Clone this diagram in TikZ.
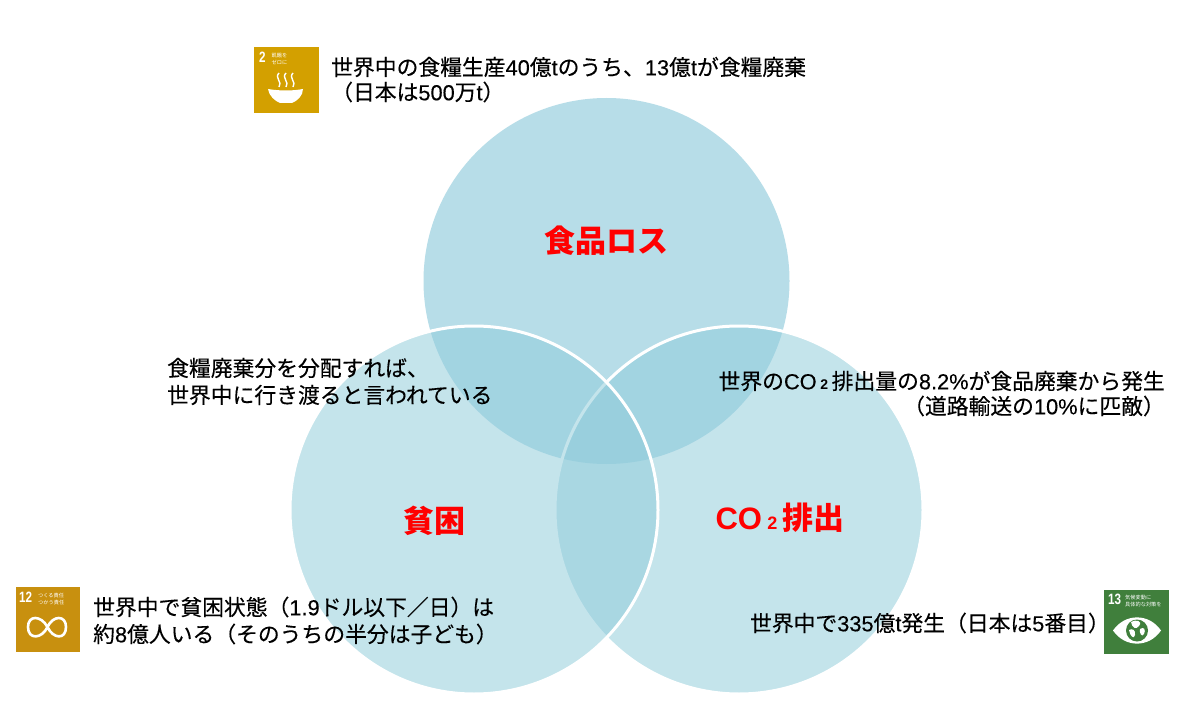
\documentclass[tikz,border=0pt]{standalone}
\usepackage{fontspec}
\setmainfont[RawFeature={embolden=0.25}]{Noto Sans CJK JP}
\newfontfamily\plainjp{Noto Sans CJK JP}
\newfontfamily\la[RawFeature={embolden=0.25}]{Liberation Sans}
\newfontfamily\lap{Liberation Sans}
\newfontfamily\nar[FakeStretch=.78]{Liberation Sans}
\newcommand{\lt}[1]{{\la #1}}
\definecolor{topblue}{HTML}{B7DDE8}
\definecolor{vennblue}{HTML}{91CCDB}
\definecolor{sdgtwo}{HTML}{D3A000}
\definecolor{sdgtwelve}{HTML}{C8900F}
\definecolor{sdgthirteen}{HTML}{407F3C}
\tikzset{
  x=1pt,y=-1pt,
  vtxt/.style={anchor=west,inner sep=0pt,font=\fontsize{21.8}{26}\selectfont,text=black,align=left},
  rtxt/.style={anchor=east,inner sep=0pt,font=\fontsize{21.8}{26}\selectfont,text=black,align=right},
  ttl/.style={anchor=center,inner sep=0pt,font=\plainjp\fontsize{31}{36}\bfseries\selectfont,text=red},
  icn/.style={anchor=north west,inner sep=0pt,text=white,align=left},
  num/.style={icn,font=\nar\bfseries\fontsize{15}{15}\selectfont},
  tiny/.style={icn,font=\plainjp\fontsize{5.2}{7}\selectfont},
}
\begin{document}
\begin{tikzpicture}
\useasboundingbox (0,0) rectangle (1199,703);
\fill[white] (0,0) rectangle (1199,703);
% circles
\fill[topblue] (606.5,281) circle (183);
\draw[white,line width=3pt,fill=vennblue,fill opacity=.53] (739,510) circle (184);
\draw[white,line width=3pt,fill=vennblue,fill opacity=.53] (474,510) circle (184);
% titles
\node[ttl] (t1) at (606,241) {食品ロス};
\node[ttl] (t2) at (434,521) {貧困};
\node[ttl] (t3) at (780,518) {{\lap\bfseries CO}\,{\fontsize{18}{20}\selectfont\lap\bfseries 2}\,排出};
% texts
\node[vtxt] (a1) at (331,67) {世界中の食糧生産\lt{40}億\lt{t}のうち、\lt{13}億\lt{t}が食糧廃棄};
\node[vtxt] (a2) at (331,92) {（日本は\lt{500}万\lt{t}）};
\node[vtxt] (b1) at (167,368) {食糧廃棄分を分配すれば、};
\node[vtxt] (b2) at (167,395) {世界中に行き渡ると言われている};
\node[rtxt] (c1) at (1165,381) {世界の\lt{CO}\,{\fontsize{14}{14}\selectfont\lap\bfseries 2}\,排出量の\lt{8.2\%}が食品廃棄から発生};
\node[rtxt] (c2) at (1165,406) {（道路輸送の\lt{10\%}に匹敵）};
\node[vtxt] (d1) at (93,607) {世界中で貧困状態（\lt{1.9}ドル以下／日）は};
\node[vtxt] (d2) at (93,634) {約\lt{8}億人いる（そのうちの半分は子ども）};
\node[rtxt] (e1) at (1110,623) {世界中で\lt{335}億\lt{t}発生（日本は\lt{5}番目）};
% SDG 2
\fill[sdgtwo] (254,47) rectangle (319,113);
\node[num] (i2) at (259,52) {2};
\node[tiny] (i2t) at (271.5,53) {飢餓を\\ゼロに};
\fill[white] (268,89) .. controls (280,91) and (292,91) .. (303,89) .. controls (303,96) and (297,101) .. (292,103) -- (280,103) .. controls (275,101) and (269,96) .. (268,89) -- cycle;
\foreach \xx in {279,286,293}
  \draw[white,line width=1.4pt] (\xx,73) .. controls (\xx-5,78) and (\xx+4,82) .. (\xx,87);
% SDG 12
\fill[sdgtwelve] (16,587) rectangle (80,652);
\node[num] (i12) at (19,592) {12};
\node[tiny] (i12t) at (38,592.5) {つくる責任\\つかう責任};
\draw[white,line width=2.6pt] (47.5,627) .. controls (41,615) and (28,615) .. (28,627) .. controls (28,640) and (42,639) .. (47.5,627) .. controls (53,615) and (66,615) .. (66,627) .. controls (66,640) and (53,639) .. (47.5,627);
% SDG 13
\fill[sdgthirteen] (1103.5,590) rectangle (1169,654);
\node[num] (i13) at (1108,593.5) {13};
\node[tiny] (i13t) at (1125,594.5) {気候変動に\\具体的な対策を};
\fill[white] (1113,630.5) .. controls (1125,613) and (1149,613) .. (1161,630.5) .. controls (1149,648) and (1125,648) .. (1113,630.5) -- cycle;
\fill[sdgthirteen] (1137,630.5) circle (11);
\fill[white] (1131,622) .. controls (1136,619) and (1143,621) .. (1139,626) .. controls (1136,630) and (1132,628) .. (1131,622) -- cycle;
\fill[white] (1129,630) .. controls (1132,628) and (1136,630) .. (1135,635) .. controls (1134,640) and (1130,636) .. (1129,630) -- cycle;
\fill[white] (1140,629) .. controls (1144,626) and (1146,630) .. (1144,634) .. controls (1142,638) and (1139,633) .. (1140,629) -- cycle;
\end{tikzpicture}
\end{document}
